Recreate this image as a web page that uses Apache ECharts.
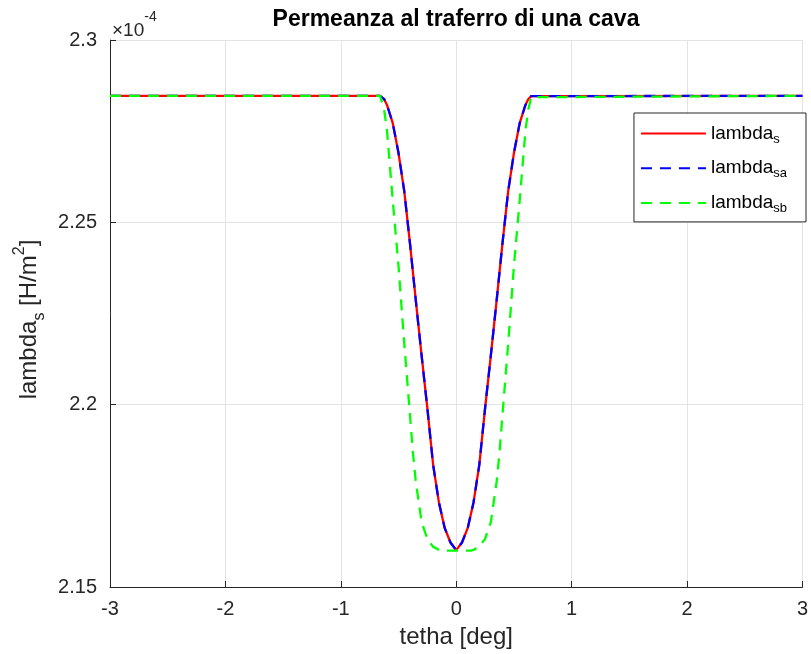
<!DOCTYPE html>
<html>
<head>
<meta charset="utf-8">
<script src="https://cdn.jsdelivr.net/npm/echarts@6/dist/echarts.min.js"></script>
<style>
  html, body { margin: 0; padding: 0; background: #ffffff; }
  #chart { width: 811px; height: 654px; }
</style>
</head>
<body>
<div id="chart"></div>
<script>
// Air-gap permeance across one stator slot, in units of 1e-4 H/m^2
const thetaS = [-3, -0.66, -0.65, -0.625, -0.60, -0.55, -0.50, -0.45, -0.40, -0.35, -0.30, -0.25, -0.20, -0.15, -0.10, -0.05,
  0, 0.05, 0.10, 0.15, 0.20, 0.25, 0.30, 0.35, 0.40, 0.45, 0.50, 0.55, 0.60, 0.625, 0.65, 0.66, 3];
const lambdaS = [2.2847, 2.2847, 2.2846, 2.2838, 2.2822, 2.2772, 2.2690, 2.2585, 2.2440, 2.2285, 2.2135, 2.1990, 2.1835, 2.1732, 2.1662, 2.1622,
  2.1601, 2.1622, 2.1662, 2.1732, 2.1835, 2.1990, 2.2135, 2.2285, 2.2440, 2.2585, 2.2690, 2.2772, 2.2822, 2.2838, 2.2846, 2.2847, 2.2847];
const lambdaSa = [2.2847, 2.2847, 2.2846, 2.2838, 2.2822, 2.2772, 2.2690, 2.2585, 2.2440, 2.2285, 2.2135, 2.1990, 2.1835, 2.1732, 2.1662, 2.1622,
  2.1601, 2.1622, 2.1662, 2.1732, 2.1835, 2.1990, 2.2135, 2.2285, 2.2440, 2.2585, 2.2690, 2.2772, 2.2822, 2.2838, 2.2846, 2.2847, 2.2847];
const thetaSb = [-3, -0.66, -0.65, -0.625, -0.60, -0.55, -0.50, -0.45, -0.40, -0.375, -0.35, -0.30, -0.25, -0.20, -0.15, -0.13,
  0, 0.13, 0.15, 0.20, 0.25, 0.30, 0.35, 0.375, 0.40, 0.45, 0.50, 0.55, 0.60, 0.625, 0.65, 0.66, 3];
const lambdaSb = [2.2847, 2.2847, 2.2843, 2.2810, 2.2752, 2.2560, 2.2380, 2.2166, 2.1969, 2.1868, 2.1788, 2.1678, 2.1632, 2.1610, 2.1602, 2.1600,
  2.1600, 2.1600, 2.1602, 2.1610, 2.1632, 2.1678, 2.1788, 2.1868, 2.1969, 2.2166, 2.2380, 2.2560, 2.2752, 2.2810, 2.2843, 2.2847, 2.2847];

const xRange = { min: -3, max: 3, step: 1 };
const yRange = { min: 2.15, max: 2.3, step: 0.05 };

const FONT = '"Liberation Sans", Arial, Helvetica, sans-serif';
const AXIS_COLOR = '#262626';
const GRID_COLOR = '#e3e3e3';

function pairs(xs, ys) {
  return xs.map((x, i) => [x, ys[i]]);
}

const legendLabels = {
  lambda_s: '{m|lambda}{s|s}',
  lambda_sa: '{m|lambda}{s|sa}',
  lambda_sb: '{m|lambda}{s|sb}'
};

const chart = echarts.init(document.getElementById('chart'), null, { renderer: 'canvas' });

chart.setOption({
  animation: false,
  backgroundColor: '#ffffff',
  title: {
    text: 'Permeanza al traferro di una cava',
    left: 451,
    textAlign: 'center',
    top: 3,
    textStyle: { fontFamily: FONT, fontSize: 23, fontWeight: 'bold', color: '#000000' }
  },
  grid: { left: 110, right: 5, top: 40, bottom: 65, containLabel: false },
  legend: {
    orient: 'vertical',
    right: 5,
    top: 113,
    itemWidth: 65,
    itemHeight: 14,
    itemGap: 13.2,
    padding: [11, 19, 7, 6],
    borderColor: AXIS_COLOR,
    borderWidth: 1,
    backgroundColor: '#ffffff',
    itemStyle: { opacity: 0 },
    formatter: name => legendLabels[name],
    textStyle: {
      fontFamily: FONT,
      rich: {
        m: { fontFamily: FONT, fontSize: 19, lineHeight: 24, color: '#000000' },
        s: { fontFamily: FONT, fontSize: 13, lineHeight: 13, verticalAlign: 'bottom', color: '#000000' }
      }
    }
  },
  xAxis: {
    type: 'value',
    min: xRange.min,
    max: xRange.max,
    interval: xRange.step,
    name: 'tetha [deg]',
    nameLocation: 'middle',
    nameGap: 38,
    nameTextStyle: { fontFamily: FONT, fontSize: 24, color: AXIS_COLOR },
    axisLine: { show: true, onZero: false, lineStyle: { color: AXIS_COLOR, width: 1 } },
    axisTick: { show: true, inside: true, length: 6, lineStyle: { color: AXIS_COLOR } },
    axisLabel: { fontFamily: FONT, fontSize: 20, color: AXIS_COLOR, margin: 12 },
    splitLine: { show: true, lineStyle: { color: GRID_COLOR, width: 1 } }
  },
  yAxis: {
    type: 'value',
    min: yRange.min,
    max: yRange.max,
    interval: yRange.step,
    name: '{m|lambda}{s|s}{m| [H/m}{p|2}{m|]}',
    nameLocation: 'middle',
    nameRotate: 90,
    nameGap: 61,
    nameTextStyle: {
      fontFamily: FONT,
      color: AXIS_COLOR,
      padding: [0, 12, 0, 0],
      rich: {
        m: { fontFamily: FONT, fontSize: 24, lineHeight: 36, color: AXIS_COLOR },
        s: { fontFamily: FONT, fontSize: 16, lineHeight: 16, verticalAlign: 'bottom', color: AXIS_COLOR },
        p: { fontFamily: FONT, fontSize: 16, lineHeight: 16, verticalAlign: 'top', color: AXIS_COLOR }
      }
    },
    axisLine: { show: true, onZero: false, lineStyle: { color: AXIS_COLOR, width: 1 } },
    axisTick: { show: true, inside: true, length: 6, lineStyle: { color: AXIS_COLOR } },
    axisLabel: { fontFamily: FONT, fontSize: 20, color: AXIS_COLOR, margin: 13 },
    splitLine: { show: true, lineStyle: { color: GRID_COLOR, width: 1 } }
  },
  graphic: [{
    type: 'text',
    left: 112,
    top: 10,
    z: 10,
    style: {
      text: '{a|×10}{b|-4}',
      rich: {
        a: { fontFamily: FONT, fontSize: 19, fill: AXIS_COLOR, lineHeight: 30, verticalAlign: 'bottom' },
        b: { fontFamily: FONT, fontSize: 14, fill: AXIS_COLOR, lineHeight: 14, verticalAlign: 'top' }
      }
    }
  }],
  series: [
    {
      name: 'lambda_s',
      type: 'line',
      data: pairs(thetaS, lambdaS),
      showSymbol: false,
      symbol: 'none',
      color: '#ff0000',
      lineStyle: { color: '#ff0000', width: 2.3, type: 'solid' }
    },
    {
      name: 'lambda_sa',
      type: 'line',
      data: pairs(thetaS, lambdaSa),
      showSymbol: false,
      symbol: 'none',
      color: '#0000ff',
      lineStyle: { color: '#0000ff', width: 2.3, type: [11, 8] }
    },
    {
      name: 'lambda_sb',
      type: 'line',
      data: pairs(thetaSb, lambdaSb),
      showSymbol: false,
      symbol: 'none',
      color: '#00ff00',
      lineStyle: { color: '#00ff00', width: 2.3, type: [11, 8] }
    }
  ]
});
</script>
</body>
</html>
